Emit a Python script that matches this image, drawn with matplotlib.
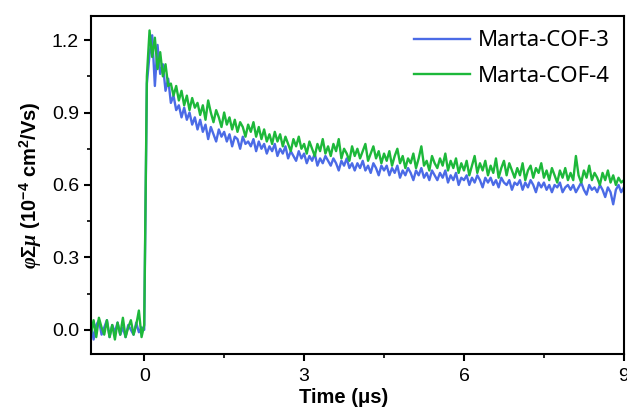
import numpy as np
import matplotlib
matplotlib.use("Agg")
import matplotlib.pyplot as plt
from matplotlib.ticker import MultipleLocator

plt.rcParams['font.family'] = ['Liberation Sans', 'DejaVu Sans']
plt.rcParams['mathtext.fontset'] = 'custom'
plt.rcParams['mathtext.it'] = 'Liberation Serif:italic:bold'
plt.rcParams['mathtext.rm'] = 'Liberation Sans:bold'

time_us = np.round(np.arange(-1.0, 9.0001, 0.05), 2)

cof3 = [
    0.03, -0.04, 0.02, 0.04, -0.02, 0.01, 0.04, -0.03, 0.02, -0.01,
    0.03, -0.02, 0.01, -0.03, 0.02, 0.00, -0.02, 0.03, -0.01, 0.01,
    0.00, 1.02, 1.14, 1.22, 1.01, 1.18, 1.06, 1.10, 0.99, 1.04,
    0.94, 0.97, 0.91, 0.93, 0.88, 0.92, 0.87, 0.90, 0.85, 0.88,
    0.83, 0.87, 0.82, 0.85, 0.79, 0.84, 0.81, 0.78, 0.83, 0.80,
    0.82, 0.78, 0.81, 0.76, 0.80, 0.79, 0.75, 0.80, 0.77, 0.78,
    0.76, 0.79, 0.74, 0.78, 0.75, 0.77, 0.73, 0.76, 0.74, 0.77,
    0.72, 0.75, 0.73, 0.76, 0.71, 0.74, 0.72, 0.70, 0.74, 0.71,
    0.73, 0.69, 0.72, 0.70, 0.73, 0.68, 0.71, 0.69, 0.72, 0.70,
    0.68, 0.71, 0.69, 0.66, 0.70, 0.68, 0.71, 0.67, 0.69, 0.66,
    0.69, 0.67, 0.70, 0.66, 0.68, 0.65, 0.69, 0.67, 0.64, 0.68,
    0.66, 0.68, 0.64, 0.67, 0.65, 0.68, 0.63, 0.66, 0.64, 0.67,
    0.65, 0.62, 0.66, 0.64, 0.67, 0.63, 0.65, 0.62, 0.66, 0.64,
    0.62, 0.65, 0.63, 0.66, 0.61, 0.64, 0.62, 0.65, 0.60, 0.63,
    0.62, 0.64, 0.60, 0.63, 0.61, 0.64, 0.62, 0.59, 0.63, 0.61,
    0.63, 0.60, 0.62, 0.59, 0.63, 0.61, 0.60, 0.62, 0.58, 0.61,
    0.60, 0.62, 0.58, 0.61, 0.59, 0.62, 0.60, 0.57, 0.61, 0.59,
    0.61, 0.58, 0.60, 0.57, 0.60, 0.59, 0.61, 0.57, 0.59, 0.60,
    0.58, 0.60, 0.57, 0.59, 0.61, 0.58, 0.56, 0.60, 0.58, 0.59,
    0.57, 0.60, 0.58, 0.55, 0.59, 0.57, 0.52, 0.58, 0.60, 0.57,
    0.59,
]

cof4 = [
    -0.02, 0.04, -0.03, 0.05, 0.01, -0.02, 0.04, -0.03, 0.02, -0.04,
    0.03, -0.02, 0.05, -0.03, 0.01, 0.04, -0.02, 0.02, 0.08, -0.03,
    0.02, 1.05, 1.24, 1.13, 1.21, 1.08, 1.15, 1.05, 1.10, 1.01,
    1.02, 0.97, 1.01, 0.95, 0.99, 0.93, 0.97, 0.91, 0.96, 0.92,
    0.94, 0.89, 0.93, 0.87, 0.95, 0.90, 0.86, 0.91, 0.88, 0.84,
    0.90, 0.85, 0.88, 0.83, 0.87, 0.82, 0.86, 0.84, 0.80, 0.85,
    0.82, 0.86, 0.80, 0.84, 0.79, 0.83, 0.78, 0.81, 0.77, 0.82,
    0.78, 0.81, 0.76, 0.80, 0.77, 0.74, 0.79, 0.76, 0.80, 0.75,
    0.77, 0.73, 0.78, 0.75, 0.72, 0.77, 0.74, 0.79, 0.73, 0.76,
    0.72, 0.77, 0.74, 0.79, 0.71, 0.75, 0.73, 0.70, 0.76, 0.72,
    0.75, 0.71, 0.74, 0.77, 0.70, 0.73, 0.76, 0.71, 0.74, 0.69,
    0.73, 0.70, 0.74, 0.68, 0.72, 0.75, 0.69, 0.72, 0.67, 0.71,
    0.69, 0.73, 0.67, 0.71, 0.76, 0.68, 0.70, 0.66, 0.72, 0.69,
    0.67, 0.71, 0.68, 0.73, 0.66, 0.70, 0.67, 0.71, 0.65, 0.69,
    0.66, 0.70, 0.64, 0.68, 0.72, 0.65, 0.69, 0.66, 0.70, 0.64,
    0.68, 0.65, 0.71, 0.63, 0.67, 0.70, 0.64, 0.69, 0.66, 0.63,
    0.67, 0.64, 0.69, 0.62, 0.66, 0.68, 0.63, 0.67, 0.65, 0.69,
    0.63, 0.66, 0.62, 0.67, 0.64, 0.61, 0.66, 0.63, 0.67, 0.62,
    0.65, 0.62, 0.72, 0.64, 0.61, 0.66, 0.63, 0.68, 0.62, 0.65,
    0.63, 0.60, 0.65, 0.62, 0.66, 0.61, 0.64, 0.60, 0.63, 0.61,
    0.62,
]

series_labels = ["Marta-COF-3", "Marta-COF-4"]
x_ticks = [0, 3, 6, 9]
y_ticks = [0.0, 0.3, 0.6, 0.9, 1.2]

fig = plt.figure(figsize=(6.27, 4.09), dpi=100)
ax = fig.add_axes([0.145, 0.1345, 0.850, 0.8265])

ax.plot(time_us, cof3, color="#4B6BE6", lw=1.7, label=series_labels[0])
ax.plot(time_us, cof4, color="#1DB83A", lw=1.7, label=series_labels[1])

ax.set_xlim(-1, 9)
ax.set_ylim(-0.1, 1.3)
ax.set_xticks(x_ticks)
ax.set_yticks(y_ticks)
ax.set_yticklabels([f"{v:.1f}" for v in y_ticks])
ax.xaxis.set_minor_locator(MultipleLocator(1.5))
ax.yaxis.set_minor_locator(MultipleLocator(0.15))

for s in ax.spines.values():
    s.set_linewidth(1.5)
ax.tick_params(which='major', direction='out', length=5, width=1.5, labelsize=14,
               top=False, right=False)
ax.tick_params(axis='x', which='major', pad=5)
ax.tick_params(which='minor', direction='out', length=3, width=1.2, top=False, right=False)

ax.set_xlabel("Time (μs)", fontsize=14.5, fontweight='bold')
ax.xaxis.set_label_coords(0.475, -0.10)
ax.set_ylabel(r"$\mathit{\varphi\Sigma\mu}$ (10$^{-4}$ cm$^{2}$/Vs)", fontsize=14.5,
              fontweight='bold', labelpad=6)

leg = ax.legend(loc='upper right', frameon=False, prop={'family': 'Noto Sans', 'size': 16},
                handlelength=2.5, handletextpad=0.35, labelspacing=0.65,
                borderaxespad=0.25, borderpad=0.4)

fig.savefig("out.png", dpi=100)
